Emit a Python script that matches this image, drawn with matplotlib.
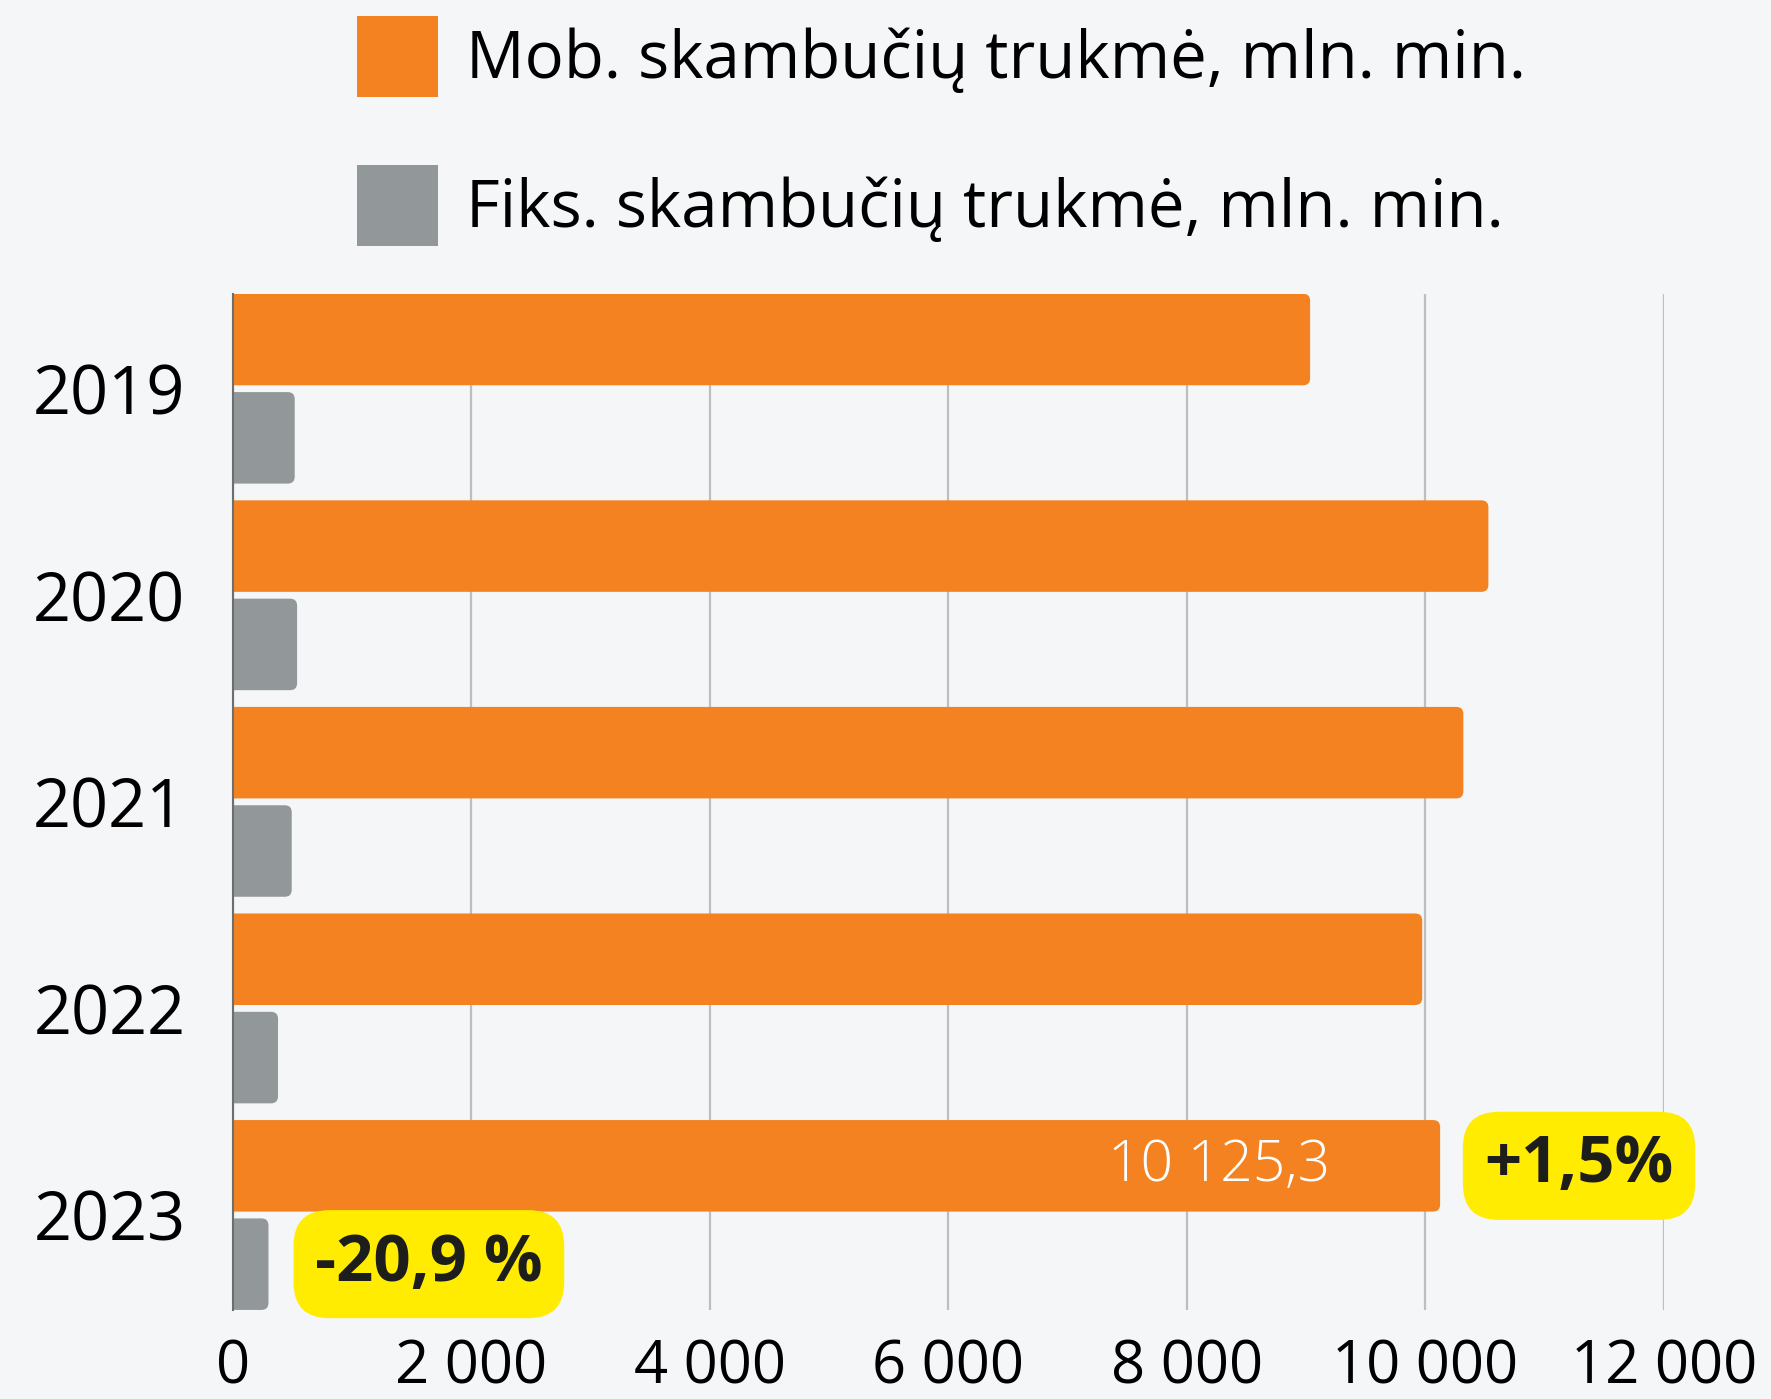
import numpy as np
import matplotlib
matplotlib.use("Agg")
import matplotlib.pyplot as plt
from matplotlib.patches import FancyBboxPatch, Patch

years = ["2019", "2020", "2021", "2022", "2023"]
mobile = [9035, 10530, 10320, 9975, 10125.3]
fixed = [520, 540, 495, 380, 300]
labels = ["Mob. skambučių trukmė, mln. min.", "Fiks. skambučių trukmė, mln. min."]
x_ticks = [0, 2000, 4000, 6000, 8000, 10000, 12000]
x_tick_labels = ["0", "2 000", "4 000", "6 000", "8 000", "10 000", "12 000"]
value_label = "10 125,3"
mobile_change = "+1,5%"
fixed_change = "-20,9 %"

ORANGE = "#f58220"
GREY = "#929899"
YELLOW = "#ffec00"
BG = "#f4f6f7"
INK = "#1d1d1b"

plt.rcParams["font.family"] = ["Open Sans", "DejaVu Sans"]

fig = plt.figure(figsize=(17.71, 13.99), dpi=100, facecolor=BG)
ax = fig.add_axes([0.1314, 0.0636, 0.808, 0.7265])
ax.set_facecolor(BG)

y = np.arange(len(years))
off = 0.238
h = 0.443
bars_m = ax.barh(y - off, mobile, height=h, color=ORANGE, zorder=3)
bars_f = ax.barh(y + off, fixed, height=h, color=GREY, zorder=3)

ax.set_xlim(0, 12000)
ax.set_ylim(len(years) - 1 + 0.46, -0.46)


# swap plain bars for ones with slightly rounded right ends
def round_bars(bars, color):
    x_per_px = 12000 / (0.808 * 1771)
    y_per_px = (len(years) - 1 + 0.92) / (0.7265 * 1399)
    for b in bars:
        x0, y0 = b.get_x(), b.get_y()
        w, hh = b.get_width(), b.get_height()
        p = FancyBboxPatch((x0 - 200, y0), w + 200, hh,
                           boxstyle="round,pad=0,rounding_size=%f" % (7 * x_per_px),
                           mutation_aspect=y_per_px / x_per_px,
                           facecolor=color, edgecolor="none", zorder=3)
        ax.add_patch(p)
        b.set_visible(False)


round_bars(bars_m, ORANGE)
round_bars(bars_f, GREY)

ax.set_xticks(x_ticks)
ax.set_xticklabels(x_tick_labels, fontsize=43, color="black")
ax.set_yticks(y)
ax.set_yticklabels(years, fontsize=48, color="black")
ax.tick_params(axis="x", length=0, pad=20)
ax.tick_params(axis="y", length=0, pad=34)
ax.xaxis.grid(True, color="#bcbec0", linewidth=1.6, zorder=0)
for s in ["top", "right", "bottom"]:
    ax.spines[s].set_visible(False)
ax.spines["left"].set_color("#6d6e70")
ax.spines["left"].set_linewidth(1.5)
ax.spines["left"].set_zorder(4)

last = len(years) - 1
ax.text(mobile[last] - 920, last - off, value_label, ha="right", va="center",
        fontsize=41, fontweight="light", color="white", zorder=5)
ax.text(mobile[last] + 1165, last - off, mobile_change, ha="center", va="center",
        fontsize=47, fontweight="bold", color=INK, zorder=5,
        bbox=dict(boxstyle="round,pad=0.33,rounding_size=0.55", fc=YELLOW, ec="none"))
ax.text(fixed[last] + 1345, last + off, fixed_change, ha="center", va="center",
        fontsize=47, fontweight="bold", color=INK, zorder=5,
        bbox=dict(boxstyle="round,pad=0.33,rounding_size=0.55", fc=YELLOW, ec="none"))

handles = [Patch(facecolor=ORANGE), Patch(facecolor=GREY)]
fig.legend(handles, labels, loc="upper left", bbox_to_anchor=(0.1834, 1.012),
           frameon=False, fontsize=47, borderpad=0, handlelength=1.24, handleheight=1.53,
           handletextpad=0.42, labelspacing=1.04, labelcolor="black")

fig.savefig("out.png", dpi=100, facecolor=BG)
